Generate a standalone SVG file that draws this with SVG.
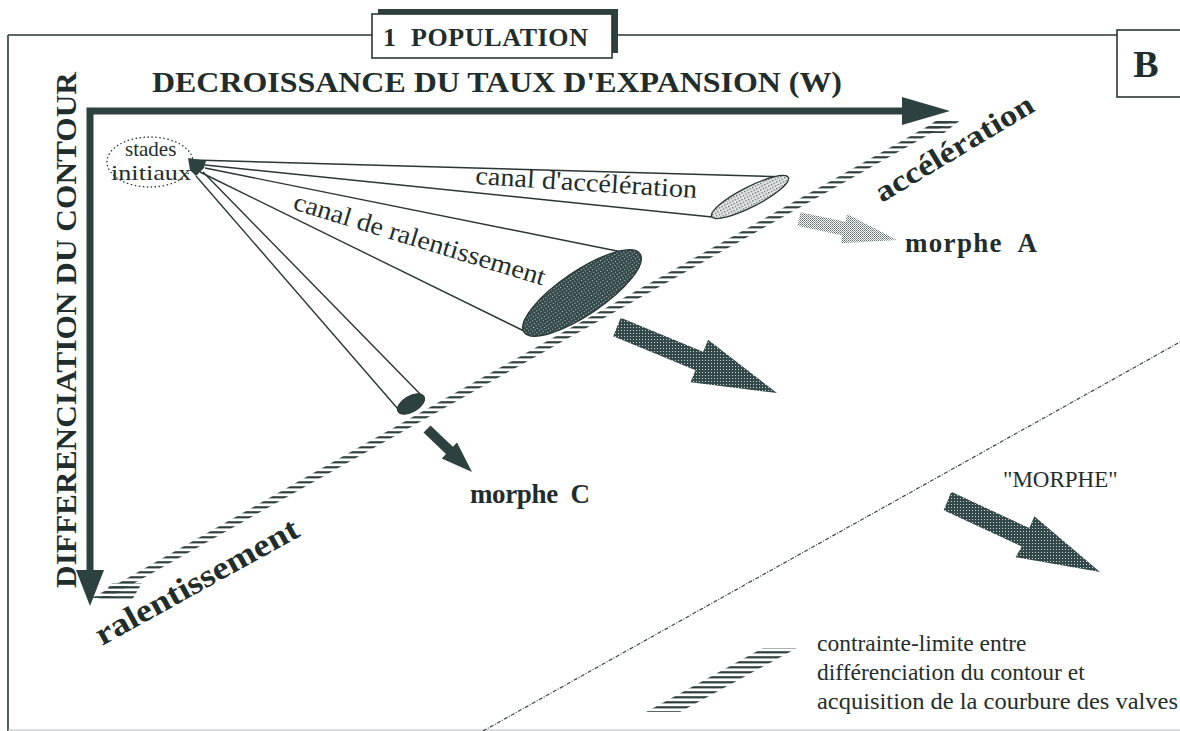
<svg xmlns="http://www.w3.org/2000/svg" width="1180" height="731" viewBox="0 0 1180 731">
<defs>
<style>
.frame{fill:none;stroke:#2a3634;stroke-width:1.6}
.axis{stroke:#2d4240;stroke-width:7;fill:none}
.head{fill:#2d4240}
.cone{fill:none;stroke:#2a3634;stroke-width:1.4}
.bold{font-family:"Liberation Serif","Times New Roman",serif;font-weight:bold;fill:#1f2e2c}
.reg{font-family:"Liberation Serif","Times New Roman",serif;fill:#1f2e2c}
.dash{fill:none;stroke:#3a4644;stroke-width:1.2;stroke-dasharray:4 1.5 1 1.5}
</style>
<pattern id="stipDark" width="3" height="3" patternUnits="userSpaceOnUse">
<rect width="3" height="3" fill="#34494a"/><rect x="0" y="0" width="1" height="1" fill="#c9d0cf"/>
</pattern>
<pattern id="stipMid" width="2" height="2" patternUnits="userSpaceOnUse">
<rect width="2" height="2" fill="#ffffff"/><rect width="1" height="1" fill="#5e6a68"/><rect x="1" y="1" width="1" height="1" fill="#8f9a98"/>
</pattern>
<pattern id="stipLight" width="3" height="3" patternUnits="userSpaceOnUse">
<rect width="3" height="3" fill="#ffffff"/><rect width="1.5" height="1.5" fill="#56625f"/><rect x="1.5" y="1.5" width="1" height="1" fill="#8a9593"/>
</pattern>
<pattern id="hatch" width="40" height="5" patternUnits="userSpaceOnUse">
<rect y="1.2" width="40" height="2.2" fill="#2d403e"/>
</pattern>
</defs>
<rect width="1180" height="731" fill="#ffffff"/>

<g id="frame">
<line class="frame" x1="8" y1="35" x2="8" y2="731"/>
<line class="frame" x1="8" y1="35" x2="372" y2="35"/>
<line class="frame" x1="612" y1="35" x2="1117" y2="35"/>
<line x1="8" y1="730" x2="1180" y2="730" stroke="#b5bcbb" stroke-width="1.2"/>
</g>

<g id="title">
<rect x="378" y="9" width="240" height="44" fill="#2d4240"/>
<rect x="372" y="14" width="240" height="44" fill="#ffffff" stroke="#2a3634" stroke-width="1.6"/>
<text class="bold" x="383" y="46" font-size="26" textLength="205" lengthAdjust="spacing" xml:space="preserve">1  POPULATION</text>
</g>

<g id="label-B">
<rect x="1117" y="30" width="70" height="67" fill="#ffffff" stroke="#2a3634" stroke-width="1.6"/>
<text class="bold" x="1146" y="77" font-size="38" text-anchor="middle">B</text>
</g>

<g id="axes">
<text class="bold" x="152" y="92" font-size="30" textLength="690" lengthAdjust="spacingAndGlyphs">DECROISSANCE DU TAUX D'EXPANSION (W)</text>
<text class="bold" transform="translate(76,588) rotate(-90)" font-size="30" textLength="516" lengthAdjust="spacingAndGlyphs">DIFFERENCIATION DU CONTOUR</text>
<polyline class="axis" points="906,111 90,111 90,575"/>
<polygon class="head" points="902,97 950,111 902,125"/>
<polygon class="head" points="76,570 90,606 104,570"/>
</g>

<g id="stades-initiaux">
<ellipse cx="150" cy="162" rx="43" ry="25" fill="none" stroke="#2a3634" stroke-width="1.3" stroke-dasharray="1.5 2.5"/>
<text class="reg" x="125" y="156" font-size="21">stades</text>
<text class="reg" x="111" y="180" font-size="22" textLength="80" lengthAdjust="spacingAndGlyphs">initiaux</text>
</g>

<g id="constraint-line">
<polygon points="92,598 108,598 953,121 937,121" fill="url(#hatch)"/>
<polygon points="98,600 132,600 142,583 112,583" fill="url(#hatch)"/>
<polygon points="920,133 944,133 962,119 938,119" fill="url(#hatch)"/>
<text class="bold" transform="translate(102,646) rotate(-29)" font-size="32" textLength="228" lengthAdjust="spacingAndGlyphs">ralentissement</text>
<text class="bold" transform="translate(882,203) rotate(-31)" font-size="30" textLength="180" lengthAdjust="spacingAndGlyphs">accélération</text>
</g>

<g id="canal-acceleration">
<line class="cone" x1="193" y1="160" x2="788" y2="177"/>
<line class="cone" x1="205" y1="165" x2="712" y2="217"/>
<ellipse cx="750" cy="197" rx="43" ry="10" transform="rotate(-27 750 197)" fill="url(#stipLight)" stroke="#2a3634" stroke-width="1.3"/>
<text class="reg" transform="translate(475,184) rotate(3.6)" font-size="26" textLength="222" lengthAdjust="spacingAndGlyphs">canal d'accélération</text>
</g>

<g id="canal-ralentissement">
<line class="cone" x1="205" y1="168" x2="632" y2="254"/>
<line class="cone" x1="200" y1="172" x2="524" y2="331"/>
<ellipse cx="582" cy="293" rx="70" ry="22" transform="rotate(-34 582 293)" fill="url(#stipDark)" stroke="#2a3634" stroke-width="1.3"/>
<text class="reg" transform="translate(292,209) rotate(17)" font-size="26" textLength="262" lengthAdjust="spacingAndGlyphs">canal de ralentissement</text>
</g>

<g id="canal-C">
<line class="cone" x1="203" y1="172" x2="424" y2="398"/>
<line class="cone" x1="196" y1="176" x2="398" y2="409"/>
<ellipse cx="411" cy="404" rx="15" ry="8" transform="rotate(-30 411 404)" fill="#2d4240" stroke="#2a3634" stroke-width="1"/>
</g>

<g id="apex">
<polygon points="188,158 206,161 204,168 196,176 190,170" fill="#2d4240"/>
</g>

<g id="morphe-A">
<polygon points="800.5,212.2 845.5,221.8 847.1,213.9 897,240 840.9,243.3 842.5,235.4 797.5,225.8" fill="url(#stipMid)"/>
<text class="bold" x="905" y="252" font-size="27" textLength="132" lengthAdjust="spacing" xml:space="preserve">morphe  A</text>
</g>

<g id="morphe-B-arrow">
<polygon points="620.8,317.8 703.1,351.7 708.1,339.7 777,393 690.5,382.2 695.5,370.2 613.2,336.3" fill="url(#stipDark)"/>
</g>

<g id="morphe-C">
<polygon points="430.5,425.4 452.9,446.8 457,442.4 472,472 441.8,458.4 446,454 423.5,432.6" fill="#2d4240"/>
<text class="bold" x="470" y="503" font-size="27" textLength="120" lengthAdjust="spacing" xml:space="preserve">morphe  C</text>
</g>

<g id="MORPHE">
<line class="dash" x1="483" y1="731" x2="1180" y2="342"/>
<polygon points="951.3,491.8 1029.3,528.1 1034.4,516.3 1100,572 1015.6,557.3 1021.7,546.5 943.7,510.2" fill="url(#stipDark)"/>
<text class="reg" x="1003" y="487" font-size="23">"MORPHE"</text>
</g>

<g id="legend">
<polygon points="646,712 680,712 797,648 763,648" fill="url(#hatch)"/>
<text class="reg" x="817" y="651" font-size="23.5">contrainte-limite entre</text>
<text class="reg" x="817" y="680" font-size="23.5">différenciation du contour et</text>
<text class="reg" x="817" y="709" font-size="23.5" textLength="361" lengthAdjust="spacingAndGlyphs">acquisition de la courbure des valves</text>
</g>
</svg>
